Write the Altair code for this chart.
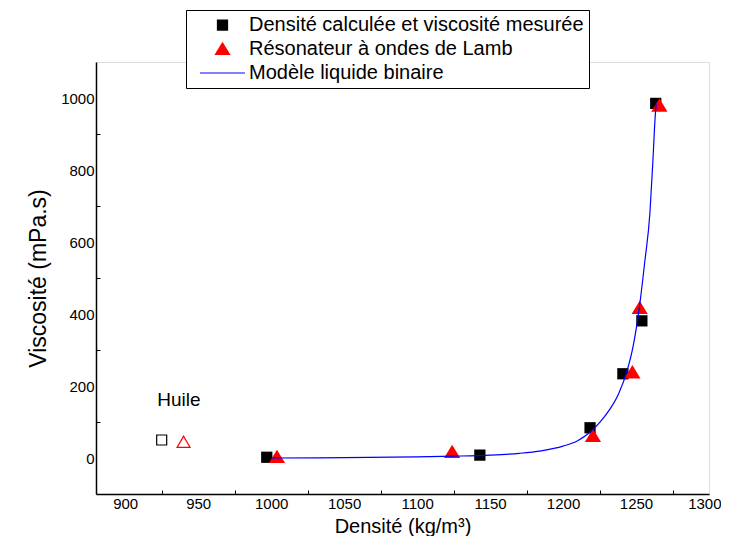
import altair as alt
import pandas as pd

FONT = "Liberation Sans"

series_names = [
    "Densité calculée et viscosité mesurée",
    "Résonateur à ondes de Lamb",
    "Modèle liquide binaire",
]
series_colors = ["#000000", "#ff0000", "#0000ff"]

# Measured (calculated density, measured viscosity)
calc_density = [997, 1143, 1218.5, 1241, 1254, 1263.5]
calc_visc = [2, 8, 84, 234, 381, 985]

# Lamb-wave resonator
lamb_density = [1004, 1124, 1220.5, 1247.5, 1252.5, 1266]
lamb_visc = [3, 17, 61, 238, 417, 979]

# Binary liquid model curve
model_density = [1000, 1050, 1100, 1125, 1150, 1170, 1185, 1200, 1210, 1218, 1225,
                 1232, 1238, 1244, 1248, 1252, 1256, 1259.5, 1261.5, 1263, 1263.8]
model_visc = [0, 1, 3, 5, 8, 13, 20, 33, 48, 70, 98,
              135, 178, 244, 310, 410, 545, 680, 820, 940, 985]

# Oil ("Huile") points, open markers
oil_calc_density = [925]
oil_calc_visc = [50]
oil_lamb_density = [940]
oil_lamb_visc = [45]

annot_text = ["Huile"]
annot_density = [922]
annot_visc = [160]

x_tick_values = [900, 925, 950, 975, 1000, 1025, 1050, 1075, 1100, 1125, 1150,
                 1175, 1200, 1225, 1250, 1275, 1300]
y_tick_values = [0, 100, 200, 300, 400, 500, 600, 700, 800, 900, 1000]

points_df = pd.DataFrame({
    "density": calc_density + lamb_density,
    "visc": calc_visc + lamb_visc,
    "series": [series_names[0]] * len(calc_density) + [series_names[1]] * len(lamb_density),
})
model_df = pd.DataFrame({"density": model_density, "visc": model_visc})
oil_calc_df = pd.DataFrame({"density": oil_calc_density, "visc": oil_calc_visc})
oil_lamb_df = pd.DataFrame({"density": oil_lamb_density, "visc": oil_lamb_visc})
annot_df = pd.DataFrame({"density": annot_density, "visc": annot_visc, "text": annot_text})

xscale = alt.Scale(domain=[880, 1300], nice=False, zero=False)
yscale = alt.Scale(domain=[-100, 1100], nice=False, zero=False)

xaxis = alt.Axis(
    values=x_tick_values, format="d",
    labelExpr="datum.value % 50 === 0 ? datum.label : ''",
    tickOpacity={"condition": {"test": "datum.value % 50 === 0", "value": 0}, "value": 1},
    tickSize={"expr": "-4"}, tickColor="black", tickWidth=1,
    labelFlush=True, labelFlushOffset=12, labelPadding=6, labelFontSize=15, labelFont=FONT,
    labelColor="black",
    domainColor="black", domainWidth=1.5, grid=False,
    titleFontSize=20, titleFont=FONT, titleFontWeight="normal", titleColor="black", titlePadding=5,
)
yaxis = alt.Axis(
    values=y_tick_values, format="d",
    labelExpr="datum.value % 200 === 0 ? datum.label : ''",
    tickOpacity={"condition": {"test": "datum.value % 200 === 0", "value": 0}, "value": 1},
    tickSize={"expr": "-4"}, tickColor="black", tickWidth=1,
    labelFlush=False, labelPadding=6, labelFontSize=15, labelFont=FONT, labelColor="black",
    domainColor="black", domainWidth=1.5, grid=False,
    titleFontSize=23, titleFont=FONT, titleFontWeight="normal", titleColor="black", titlePadding=10,
)

# Symbol paths (all drawn at the same symbol size; shapes scale within it)
square_path = "M-0.25,-0.25L0.25,-0.25L0.25,0.25L-0.25,0.25Z"
triangle_path = "M0,-0.32L0.36,0.27L-0.36,0.27Z"
line_path = "M-1,-0.025L1,-0.025L1,0.025L-1,0.025Z"
SYMBOL_SIZE = 2025

legend_cfg = alt.Legend(
    orient="none", legendX=90, legendY=-52, title=None,
    labelFontSize=20, labelFont=FONT, labelColor="black", labelLimit=500, labelOffset=4,
    strokeColor="black", fillColor="white", padding=5, rowPadding=4, clipHeight=20,
    symbolSize=SYMBOL_SIZE, symbolOffset=9, symbolOpacity=1, symbolStrokeWidth=0,
)

X = alt.X("density:Q", scale=xscale, axis=xaxis, title="Densité (kg/m³)")
Y = alt.Y("visc:Q", scale=yscale, axis=yaxis, title="Viscosité (mPa.s)")

points = alt.Chart(points_df).mark_point(filled=True, opacity=1, size=SYMBOL_SIZE, strokeWidth=0).encode(
    x=X, y=Y,
    color=alt.Color("series:N", scale=alt.Scale(domain=series_names, range=series_colors), legend=legend_cfg),
    shape=alt.Shape("series:N", scale=alt.Scale(domain=series_names, range=[square_path, triangle_path, line_path]), legend=legend_cfg),
)

model_line = alt.Chart(model_df).mark_line(interpolate="monotone", color="#0000ff", strokeWidth=1.2).encode(
    x=X, y=Y
)

oil_sq = alt.Chart(oil_calc_df).mark_point(shape="square", filled=False, color="black", size=100, strokeWidth=1.2, opacity=1).encode(x=X, y=Y)
oil_tri = alt.Chart(oil_lamb_df).mark_point(shape="triangle-up", filled=False, color="red", size=170, strokeWidth=1.2, opacity=1).encode(x=X, y=Y)

annot = alt.Chart(annot_df).mark_text(align="left", baseline="middle", fontSize=19, font=FONT, color="black").encode(
    x=X, y=Y, text="text:N"
)

chart = alt.layer(points, model_line, oil_sq, oil_tri, annot).properties(
    width=613, height=432,
    autosize=alt.AutoSizeParams(type="none"),
    padding={"left": 88, "top": 54, "right": 12, "bottom": 42},
).configure_view(stroke=None).configure(background="white")

chart.save("out.html", embed_options={"renderer": "svg", "actions": False})
